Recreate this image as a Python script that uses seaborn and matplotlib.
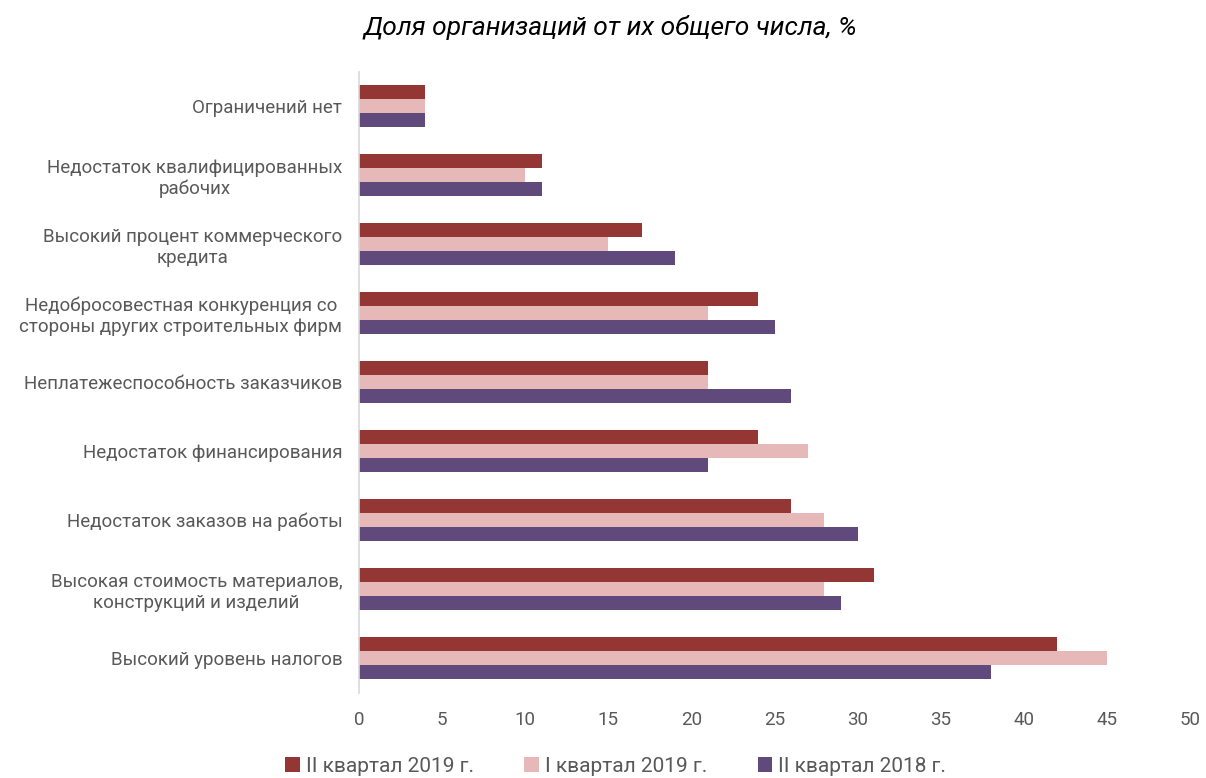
import matplotlib
matplotlib.use("Agg")
import matplotlib.pyplot as plt
import seaborn as sns
import pandas as pd

categories = [
    "Ограничений нет",
    "Недостаток квалифицированных\nрабочих",
    "Высокий процент коммерческого\nкредита",
    "Недобросовестная конкуренция со\nстороны других строительных фирм",
    "Неплатежеспособность заказчиков",
    "Недостаток финансирования",
    "Недостаток заказов на работы",
    "Высокая стоимость материалов,\nконструкций и изделий",
    "Высокий уровень налогов",
]
series_names = ["II квартал 2019 г.", "I квартал 2019 г.", "II квартал 2018 г."]
q2_2019 = [4, 11, 17, 24, 21, 24, 26, 31, 42]
q1_2019 = [4, 10, 15, 21, 21, 27, 28, 28, 45]
q2_2018 = [4, 11, 19, 25, 26, 21, 30, 29, 38]
colors = ["#943634", "#E6B9B8", "#604A7B"]
x_ticks = [0, 5, 10, 15, 20, 25, 30, 35, 40, 45, 50]

rows = []
for name, vals in zip(series_names, [q2_2019, q1_2019, q2_2018]):
    for c, v in zip(categories, vals):
        rows.append({"cat": c, "series": name, "val": v})
df = pd.DataFrame(rows)

sns.set_theme(style="white")
plt.rcParams["font.family"] = ["Roboto", "DejaVu Sans"]

fig = plt.figure(figsize=(12.06, 7.78), dpi=100)
ax = fig.add_axes([359 / 1206, 1 - 692.5 / 778, (1190 - 359) / 1206, (692.5 - 71.5) / 778])

sns.barplot(data=df, y="cat", x="val", hue="series", order=categories,
            hue_order=series_names, palette=colors, orient="h", width=0.61,
            saturation=1, linewidth=0, ax=ax, legend=True)

ax.set_xlim(0, 50)
ax.set_xticks(x_ticks)
ax.set_xlabel("")
ax.set_ylabel("")
for s in ["top", "right", "bottom"]:
    ax.spines[s].set_visible(False)
ax.spines["left"].set_color("#D9D9D9")
ax.spines["left"].set_linewidth(1.2)
ax.tick_params(axis="x", length=0, labelsize=13.5, colors="#595959", pad=13)
ax.tick_params(axis="y", length=0, labelsize=13.5, colors="#595959", pad=12)
for lbl in ax.get_yticklabels():
    lbl.set_horizontalalignment("right")
    lbl.set_multialignment("center")
ax.grid(False)

handles, labels = ax.get_legend_handles_labels()
ax.get_legend().remove()
fig.legend(handles, labels, loc="center", bbox_to_anchor=(616 / 1206, 1 - 766 / 778), ncol=3,
           frameon=False, fontsize=15, handlelength=0.7, handleheight=0.7,
           columnspacing=2.4, handletextpad=0.3, labelcolor="#595959")

fig.text(610 / 1206, 1 - 28 / 778, "Доля организаций от их общего числа, %",
         ha="center", va="center", fontsize=19, style="italic", color="#000000")

fig.savefig("out.png", dpi=100, facecolor="white")
